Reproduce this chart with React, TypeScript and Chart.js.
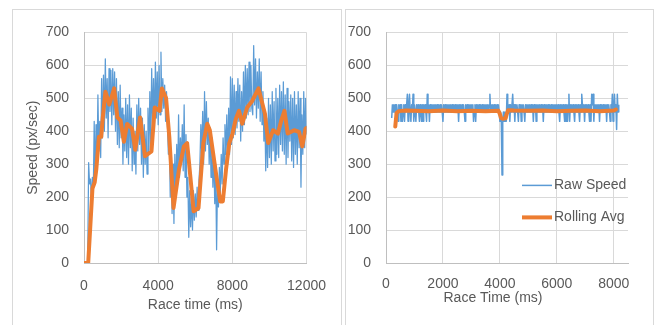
import React, { useEffect, useRef } from "react";
import { Chart, registerables } from "chart.js";

Chart.register(...registerables);

const FONT_FAMILY = "'Liberation Sans', Arial, sans-serif";
const TEXT_COLOR = "#595959";
const GRID_COLOR = "#d9d9d9";
const AXIS_COLOR = "#bfbfbf";
const BLUE = "#5b9bd5";
const ORANGE = "#ed7d31";

// ---------- Chart 1 (left) ----------
const RACE1_RAW_START_MS = 200;
const RACE1_RAW_STEP_MS = 50;
const RACE1_RAW_SPEED = [
  0, 305, 240, 255, 190, 260, 210, 430, 250, 420,
  290, 510, 340, 430, 320, 560, 380, 570, 400, 620,
  440, 560, 380, 590, 460, 585, 420, 590, 450, 580,
  400, 560, 360, 520, 350, 540, 380, 470, 300, 450,
  340, 500, 320, 480, 300, 510, 350, 470, 280, 440,
  300, 400, 270, 480, 340, 500, 360, 470, 300, 440,
  260, 420, 300, 400, 270, 470, 330, 520, 360, 590,
  420, 560, 400, 610, 440, 580, 420, 600, 450, 640,
  460, 560, 470, 540, 430, 520, 420, 330, 380, 200,
  330, 150, 300, 120, 330, 200, 360, 240, 450, 260,
  380, 300, 420, 280, 480, 260, 390, 200, 260, 78,
  220, 110, 200, 100, 220, 130, 210, 140, 230, 160,
  250, 300, 420, 330, 460, 300, 520, 340, 490, 360,
  440, 300, 410, 260, 380, 230, 330, 180, 300, 40,
  250, 170, 290, 210, 330, 240, 380, 300, 420, 330,
  450, 300, 470, 330, 565, 360, 560, 380, 540, 390,
  520, 410, 560, 430, 540, 370, 520, 400, 580, 420,
  600, 440, 590, 450, 610, 460, 600, 470, 450, 660,
  480, 620, 440, 580, 470, 620, 430, 580, 420, 520,
  370, 460, 280, 440, 290, 500, 320, 480, 300, 520,
  340, 490, 310, 530, 330, 500, 320, 540, 360, 520,
  340, 550, 330, 510, 300, 530, 320, 490, 370, 510,
  310, 500, 290, 520, 330, 480, 300, 520, 350, 500,
  230, 450, 330, 520, 350, 500, 390,
];
const RACE1_AVG_TIME = [
  0, 227, 455, 577, 665, 805, 927, 1014, 1154, 1364,
  1627, 1801, 1976, 2151, 2326, 2589, 2763, 3026, 3288, 3638,
  3813, 4075, 4198, 4425, 4600, 4827, 5124, 5387, 5562, 5912,
  6174, 6436, 6646, 6786, 7136, 7346, 7486, 7661, 7836, 8011,
  8185, 8360, 8535, 8797, 9060, 9410, 9585, 9760, 9934, 10197,
  10459, 10634, 10809, 10984, 11334, 11596, 11771, 11946, 12000,
];
const RACE1_AVG_SPEED = [
  0, 0, 226, 245, 285, 383, 383, 442, 520, 481,
  530, 442, 432, 368, 422, 408, 344, 442, 324, 339,
  472, 462, 530, 501, 383, 167, 285, 354, 364, 157,
  167, 364, 423, 403, 265, 187, 187, 285, 364, 393,
  437, 462, 423, 472, 491, 530, 491, 452, 364, 403,
  393, 432, 462, 393, 403, 398, 354, 408, 410,
];
const RACE1_X_TICKS = [0, 4000, 8000, 12000];
const RACE1_X_MAX = 12000;
const RACE1_X_TITLE = "Race time (ms)";
const RACE1_Y_TITLE = "Speed (px/sec)";

// ---------- Chart 2 (right) ----------
const RACE2_RAW_START_MS = 200;
const RACE2_RAW_STEP_MS = 25;
const RACE2_RAW_SPEED = [
  440, 480, 458, 480, 458, 480, 430, 480, 458, 430, 480, 458, 480, 430, 480, 430, 458, 480, 430, 480,
  458, 480, 512, 430, 480, 512, 458, 430, 480, 458, 512, 430, 480, 458, 430, 480, 458, 480, 458, 430,
  480, 458, 430, 480, 430, 480, 458, 480, 458, 430, 512, 458, 480, 430, 480, 458, 480, 458, 480, 458,
  480, 458, 480, 458, 480, 458, 480, 458, 480, 458, 480, 458, 430, 480, 458, 480, 458, 480, 458, 480,
  458, 480, 458, 480, 458, 480, 458, 480, 458, 480, 458, 480, 458, 480, 430, 480, 458, 480, 458, 480,
  458, 480, 458, 430, 480, 458, 480, 458, 480, 458, 480, 458, 480, 458, 480, 430, 458, 480, 430, 480,
  458, 480, 458, 480, 458, 480, 458, 480, 458, 480, 458, 480, 458, 480, 458, 480, 458, 480, 512, 458,
  480, 458, 480, 458, 480, 458, 480, 458, 480, 458, 480, 458, 430, 458, 430, 267, 430, 458, 430, 458,
  430, 430, 512, 480, 458, 480, 430, 480, 458, 480, 512, 458, 480, 430, 480, 458, 480, 458, 430, 480,
  458, 480, 430, 480, 458, 480, 458, 430, 480, 458, 480, 458, 480, 458, 480, 458, 480, 458, 480, 430,
  480, 458, 480, 430, 480, 458, 480, 458, 480, 458, 480, 458, 480, 430, 480, 458, 480, 458, 480, 458,
  480, 458, 480, 458, 480, 458, 480, 458, 480, 458, 480, 458, 480, 458, 480, 458, 430, 480, 458, 480,
  458, 480, 458, 430, 480, 430, 480, 430, 480, 512, 430, 480, 458, 480, 458, 480, 458, 430, 480, 458,
  480, 458, 480, 458, 430, 480, 458, 512, 480, 458, 480, 430, 480, 458, 480, 458, 480, 458, 430, 480,
  430, 512, 480, 512, 430, 480, 458, 480, 458, 480, 458, 480, 430, 480, 458, 480, 458, 480, 458, 480,
  458, 480, 430, 480, 458, 480, 458, 430, 480, 458, 512, 430, 480, 512, 458, 480, 405, 512, 458, 480,
];
const RACE2_AVG_TIME = [
  325, 370, 450, 700, 1000, 1500, 2000, 2500, 3000, 3500, 3950, 4000, 4040,
  4100, 4200, 4240, 4290, 4500, 5000, 5500, 6000, 6500, 7000, 7500, 8000, 8075,
];
const RACE2_AVG_SPEED = [
  414, 455, 461, 463, 462, 461, 463, 461, 462, 461, 462, 452, 440,
  438, 439, 452, 464, 463, 462, 463, 461, 462, 463, 461, 463, 466,
];
const RACE2_X_TICKS = [0, 2000, 4000, 6000, 8000];
const RACE2_X_MAX = 8500;
const RACE2_X_TITLE = "Race Time (ms)";
const LEGEND_LABELS = ["Raw Speed", "Rolling Avg"];

const Y_TICKS = [0, 100, 200, 300, 400, 500, 600, 700];
const Y_MAX = 700;

const font14 = { family: FONT_FAMILY, size: 14 };

function rawPoints(start: number, step: number, values: number[]) {
  return values.map((v, i) => ({ x: start + i * step, y: v }));
}
function pairPoints(times: number[], values: number[]) {
  return times.map((t, i) => ({ x: t, y: values[i] }));
}

const legendPlugin = {
  id: "speedLegend",
  afterDraw(chart: any) {
    const { ctx, chartArea } = chart;
    const rows = [
      { label: LEGEND_LABELS[0], color: BLUE, width: 1.5, dy: 153 },
      { label: LEGEND_LABELS[1], color: ORANGE, width: 4, dy: 185 },
    ];
    ctx.save();
    ctx.font = `14px ${FONT_FAMILY}`;
    ctx.textBaseline = "middle";
    ctx.textAlign = "left";
    for (const r of rows) {
      const y = chartArea.top + r.dy;
      ctx.strokeStyle = r.color;
      ctx.lineWidth = r.width;
      ctx.lineCap = "butt";
      ctx.beginPath();
      ctx.moveTo(chartArea.right - 106, y);
      ctx.lineTo(chartArea.right - 76, y);
      ctx.stroke();
      ctx.fillStyle = TEXT_COLOR;
      ctx.fillText(r.label, chartArea.right - 74, y);
    }
    ctx.restore();
  },
};

const xTitlePlugin = {
  id: "xTitleRight",
  afterDraw(chart: any) {
    const { ctx, chartArea } = chart;
    ctx.save();
    ctx.font = `14px ${FONT_FAMILY}`;
    ctx.fillStyle = TEXT_COLOR;
    ctx.textAlign = "center";
    ctx.textBaseline = "middle";
    ctx.fillText(RACE2_X_TITLE, chartArea.left + 107, chartArea.bottom + 35);
    ctx.restore();
  },
};

function buildConfig(opts: {
  raw: { x: number; y: number }[];
  avg: { x: number; y: number }[];
  xMax: number;
  xTicks: number[];
  xTitle: string | null;
  yTitle: string | null;
  padding: { left: number; right: number; top: number; bottom: number };
  yWidth: number;
  xHeight: number;
  xTickPad: number;
  rawWidth: number;
  plugins: any[];
}): any {
  return {
    type: "line",
    data: {
      datasets: [
        {
          label: "Raw Speed",
          data: opts.raw,
          borderColor: BLUE,
          borderWidth: opts.rawWidth,
          pointRadius: 0,
          tension: 0,
          order: 2,
          borderJoinStyle: "round",
        },
        {
          label: "Rolling Avg",
          data: opts.avg,
          borderColor: ORANGE,
          borderWidth: 4,
          pointRadius: 0,
          tension: 0,
          order: 1,
          borderJoinStyle: "round",
          borderCapStyle: "round",
        },
      ],
    },
    options: {
      animation: false,
      responsive: false,
      events: [],
      layout: { padding: opts.padding },
      plugins: { legend: { display: false }, tooltip: { enabled: false } },
      scales: {
        x: {
          type: "linear",
          min: 0,
          max: opts.xMax,
          afterBuildTicks: (s: any) => {
            s.ticks = opts.xTicks.map((v) => ({ value: v }));
          },
          afterFit: (s: any) => {
            s.height = opts.xHeight;
          },
          grid: { color: GRID_COLOR, lineWidth: 1, drawTicks: false },
          border: { color: AXIS_COLOR, width: 1 },
          ticks: {
            color: TEXT_COLOR,
            font: font14,
            padding: opts.xTickPad,
            maxRotation: 0,
            autoSkip: false,
            callback: (v: any) => String(v),
          },
          title: opts.xTitle
            ? { display: true, text: opts.xTitle, color: TEXT_COLOR, font: font14, padding: { top: 0, bottom: 0 } }
            : { display: false },
        },
        y: {
          type: "linear",
          min: 0,
          max: Y_MAX,
          afterBuildTicks: (s: any) => {
            s.ticks = Y_TICKS.map((v) => ({ value: v }));
          },
          afterFit: (s: any) => {
            s.width = opts.yWidth;
          },
          grid: { color: GRID_COLOR, lineWidth: 1, drawTicks: false },
          border: { color: AXIS_COLOR, width: 1 },
          ticks: {
            color: TEXT_COLOR,
            font: font14,
            padding: 15,
            autoSkip: false,
            callback: (v: any) => String(v),
          },
          title: opts.yTitle
            ? { display: true, text: opts.yTitle, color: TEXT_COLOR, font: font14, padding: { top: 0, bottom: 0 } }
            : { display: false },
        },
      },
    },
    plugins: opts.plugins,
  };
}

function ChartCanvas({ config, width, height, left, top }: any) {
  const ref = useRef<HTMLCanvasElement | null>(null);
  useEffect(() => {
    if (!ref.current) return;
    const chart = new Chart(ref.current, config);
    return () => chart.destroy();
  }, []);
  return (
    <canvas
      ref={ref}
      width={width}
      height={height}
      style={{ position: "absolute", left, top, width, height }}
    />
  );
}

export default function App() {
  const leftConfig = buildConfig({
    raw: rawPoints(RACE1_RAW_START_MS, RACE1_RAW_STEP_MS, RACE1_RAW_SPEED),
    avg: pairPoints(RACE1_AVG_TIME, RACE1_AVG_SPEED),
    xMax: RACE1_X_MAX,
    xTicks: RACE1_X_TICKS,
    xTitle: RACE1_X_TITLE,
    yTitle: RACE1_Y_TITLE,
    padding: { left: 13, right: 28, top: 17, bottom: 11 },
    yWidth: 59,
    xHeight: 51,
    xTickPad: 15,
    rawWidth: 1.25,
    plugins: [],
  });
  const rightConfig = buildConfig({
    raw: rawPoints(RACE2_RAW_START_MS, RACE2_RAW_STEP_MS, RACE2_RAW_SPEED),
    avg: pairPoints(RACE2_AVG_TIME, RACE2_AVG_SPEED),
    xMax: RACE2_X_MAX,
    xTicks: RACE2_X_TICKS,
    xTitle: null,
    yTitle: null,
    padding: { left: 0, right: 25, top: 15, bottom: 17 },
    yWidth: 41,
    xHeight: 45,
    xTickPad: 13,
    rawWidth: 1.5,
    plugins: [legendPlugin, xTitlePlugin],
  });

  return (
    <div
      style={{
        position: "absolute",
        left: 0,
        top: 0,
        width: 654,
        height: 325,
        overflow: "hidden",
        background: "#ffffff",
      }}
    >
      <div
        style={{
          position: "absolute",
          left: 12,
          top: 9,
          width: 328,
          height: 330,
          border: "1px solid #d9d9d9",
        }}
      />
      <div
        style={{
          position: "absolute",
          left: 345,
          top: 9,
          width: 307,
          height: 330,
          border: "1px solid #d9d9d9",
        }}
      />
      <ChartCanvas config={leftConfig} width={329} height={316} left={12} top={9} />
      <ChartCanvas config={rightConfig} width={308} height={316} left={345} top={9} />
    </div>
  );
}
